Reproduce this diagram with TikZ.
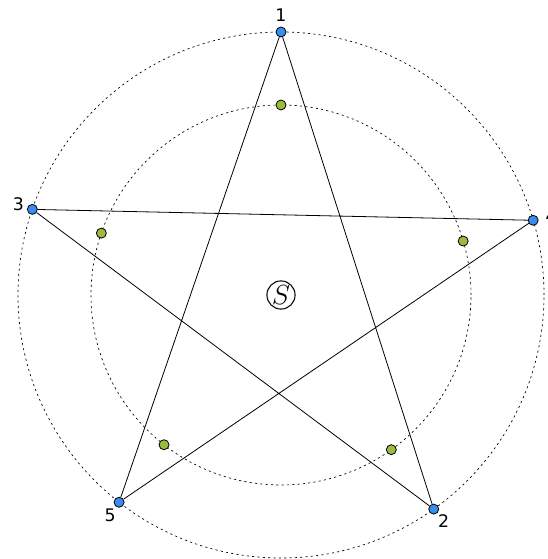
\documentclass[tikz,border=0pt]{standalone}
\usepackage{fontspec}
\setmainfont{DejaVu Sans}
\usetikzlibrary{calc}

\definecolor{dotblue}{RGB}{58,140,240}
\definecolor{dotgreen}{RGB}{156,186,62}

\begin{document}
\begin{tikzpicture}[x=0.75pt,y=0.75pt,
  ring/.style={line width=0.5pt,dash pattern=on 1.6pt off 2.4pt},
  bluedot/.style={circle,draw,line width=0.6pt,fill=dotblue,inner sep=0pt,minimum size=7.5pt},
  greendot/.style={circle,draw,line width=0.6pt,fill=dotgreen,inner sep=0pt,minimum size=7.5pt},
  lab/.style={font=\fontsize{13}{15}\selectfont,inner sep=0pt}]
  \useasboundingbox (-281,-264) rectangle (266,295);
  \draw[ring] (0,0) circle (263);
  \draw[ring] (0,0) circle (190);
  \foreach \n/\ang/\dx/\dy in {1/90/0/17,2/305.5/10/-12,3/161/-14/5,4/16.5/18/4,5/232/-9/-13}{
    \node[bluedot] (p\n) at (\ang:263) {};
    \node[greendot] (q\n) at (\ang:190) {};
    \node[lab] (l\n) at ($(p\n)+(\dx,\dy)$) {\n};
  }
  % star
  \draw[line width=0.6pt] (p1) -- (p2) (p2) -- (p3) (p3) -- (p4) (p4) -- (p5) (p5) -- (p1);
  \node[circle,draw,line width=0.8pt,inner sep=0.5pt,minimum size=19.5pt,font=\fontsize{20}{21}\selectfont] (s) at (0,0) {$S$};
\end{tikzpicture}
\end{document}
